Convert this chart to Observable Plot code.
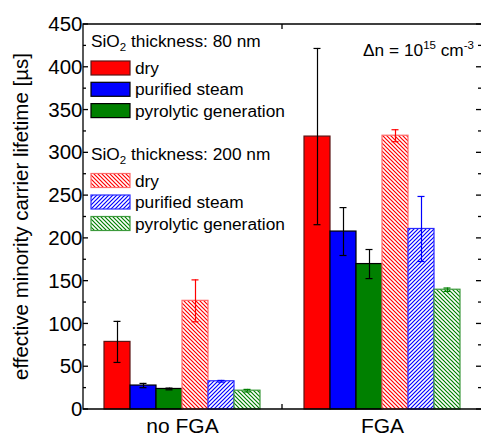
<!DOCTYPE html>
<html>
<head>
<meta charset="utf-8">
<script src="https://cdn.jsdelivr.net/npm/d3@7"></script>
<script src="https://cdn.jsdelivr.net/npm/@observablehq/plot@0.6"></script>
<style>
  html, body { margin: 0; padding: 0; background: #fff; }
  #chart { width: 481px; height: 436px; }
</style>
</head>
<body>
<div id="chart"></div>
<script>
// ---- data ----
const groups = ["no FGA", "FGA"];
const series = ["dry 80", "purified steam 80", "pyrolytic 80", "dry 200", "purified steam 200", "pyrolytic 200"];
const lifetimeNoFGA = [79, 28, 24, 127, 33, 22];
const errorNoFGA = [24, 2.5, 1, 24.5, 1, 1.5];
const lifetimeFGA = [319, 208, 170, 320, 211, 140];
const errorFGA = [103, 28, 17, 7, 38, 2];
const yTicks = [0, 50, 100, 150, 200, 250, 300, 350, 400, 450];
const yMinorTicks = [25, 75, 125, 175, 225, 275, 325, 375, 425];
const legendHeaders = ["80 nm", "200 nm"];
const legendLabels = ["dry", "purified steam", "pyrolytic generation"];
const yTitle = "effective minority carrier lifetime [µs]";

// ---- styles ----
const FONT = "Arial, 'Liberation Sans', Helvetica, sans-serif";
const FILL = {
  "dry 80": "#ff0000", "purified steam 80": "#0000ff", "pyrolytic 80": "#008000",
  "dry 200": "url(#hatch-red)", "purified steam 200": "url(#hatch-blue)", "pyrolytic 200": "url(#hatch-green)"
};
const STROKE = {
  "dry 80": "#5a1515", "purified steam 80": "#000000", "pyrolytic 80": "#000000",
  "dry 200": "#ff6a6a", "purified steam 200": "#2a2aff", "pyrolytic 200": "#3c9a3c"
};
const ERRC = {
  "dry 80": "#000", "purified steam 80": "#000", "pyrolytic 80": "#000",
  "dry 200": "#ff0000", "purified steam 200": "#0000ff", "pyrolytic 200": "#008000"
};

const rows = [];
groups.forEach((g, gi) => {
  const vals = gi === 0 ? lifetimeNoFGA : lifetimeFGA;
  const errs = gi === 0 ? errorNoFGA : errorFGA;
  series.forEach((s, i) => rows.push({group: g, series: s, value: vals[i], err: errs[i]}));
});

const chart = Plot.plot({
  width: 481,
  height: 436,
  marginTop: 24,
  marginRight: 0,
  marginBottom: 27,
  marginLeft: 83,
  style: {fontFamily: FONT, color: "black", background: "white", overflow: "visible"},
  fx: {domain: groups, paddingInner: 0.199, paddingOuter: 0.0896, label: null},
  x: {domain: series, paddingInner: 0, paddingOuter: 0, axis: null},
  y: {domain: [0, 450]},
  color: {type: "identity"},
  marks: [
    Plot.barY(rows, {fx: "group", x: "series", y: "value",
      fill: d => FILL[d.series], stroke: d => STROKE[d.series], strokeWidth: 1.2}),
    Plot.ruleX(rows, {fx: "group", x: "series",
      y1: d => d.value - d.err, y2: d => d.value + d.err,
      stroke: d => ERRC[d.series], strokeWidth: 1.2}),
    Plot.tickY(rows, {fx: "group", x: "series", y: d => d.value + d.err,
      stroke: d => ERRC[d.series], strokeWidth: 1.2, insetLeft: 9.5, insetRight: 9.5}),
    Plot.tickY(rows, {fx: "group", x: "series", y: d => d.value - d.err,
      stroke: d => ERRC[d.series], strokeWidth: 1.2, insetLeft: 9.5, insetRight: 9.5}),
    Plot.axisY(yTicks, {anchor: "left", tickSize: 0, tickPadding: 15, fontSize: 20.5, label: null}),
    Plot.axisFx({anchor: "bottom", tickSize: 0, tickPadding: 9, fontSize: 21, label: null})
  ]
});

document.getElementById("chart").appendChild(chart);

// ---- decorations: patterns, frame, ticks, legend, annotation ----
const svg = d3.select(chart);
// nudge y tick labels a few px further left of the axis line (keep Plot's own offset)
svg.selectAll("g[aria-label='y-axis tick label']").attr("transform", function () {
  return (this.getAttribute("transform") || "") + " translate(-5,0)";
});

const defs = svg.insert("defs", ":first-child");
function hatch(id, color, dir) {
  const p = defs.append("pattern").attr("id", id).attr("patternUnits", "userSpaceOnUse")
    .attr("width", 4).attr("height", 4);
  p.append("rect").attr("width", 4).attr("height", 4).attr("fill", "white");
  const d = dir === "back"
    ? "M-1,-1 L5,5 M-1,3 L1,5 M3,-1 L5,1"
    : "M-1,5 L5,-1 M-1,1 L1,-1 M3,5 L5,3";
  p.append("path").attr("d", d).attr("stroke", color).attr("stroke-width", 1.2);
}
hatch("hatch-red", "#ff0000", "back");
hatch("hatch-blue", "#0000ff", "fwd");
hatch("hatch-green", "#008000", "back");

const ys = chart.scale("y");
const fxs = chart.scale("fx");
const [yBottom, yTop] = ys.range;
const xLeft = 83, xRight = 481;
const deco = svg.append("g").attr("stroke", "black").attr("stroke-width", 1.3).attr("fill", "none");
deco.append("path").attr("d", `M${xRight},${yTop}H${xLeft}V${yBottom}H${xRight}`);
yTicks.forEach(v => {
  const yy = ys.apply(v);
  deco.append("line").attr("x1", xLeft).attr("x2", xLeft + 5).attr("y1", yy).attr("y2", yy);
  deco.append("line").attr("x1", xRight - 5).attr("x2", xRight).attr("y1", yy).attr("y2", yy);
});
yMinorTicks.forEach(v => {
  const yy = ys.apply(v);
  deco.append("line").attr("x1", xLeft).attr("x2", xLeft + 3).attr("y1", yy).attr("y2", yy);
  deco.append("line").attr("x1", xRight - 3).attr("x2", xRight).attr("y1", yy).attr("y2", yy);
});
// category separator tick
const sep = (fxs.apply(groups[0]) + fxs.bandwidth + fxs.apply(groups[1])) / 2;
deco.append("line").attr("x1", sep).attr("x2", sep).attr("y1", yBottom).attr("y2", yBottom - 5);
deco.append("line").attr("x1", sep).attr("x2", sep).attr("y1", yTop).attr("y2", yTop + 5);

// y title
svg.append("text").attr("transform", `translate(28,${(yTop + yBottom) / 2}) rotate(-90)`)
  .attr("text-anchor", "middle").attr("font-size", 20.5).attr("font-family", FONT)
  .attr("fill", "black").text(yTitle);

// legend
const leg = svg.append("g").attr("font-family", FONT).attr("font-size", 17.3)
  .attr("fill", "black").attr("text-anchor", "start");
const sets = [
  {header: legendHeaders[0], y0: 47, rowsY: [68, 89.3, 110.6], keys: series.slice(0, 3)},
  {header: legendHeaders[1], y0: 159.5, rowsY: [180.5, 202, 223.5], keys: series.slice(3, 6)}
];
sets.forEach(set => {
  const t = leg.append("text").attr("x", 91).attr("y", set.y0);
  t.append("tspan").text("SiO");
  t.append("tspan").attr("font-size", 11.5).attr("dy", 4).text("2");
  t.append("tspan").attr("dy", -4).text(" thickness: " + set.header);
  set.keys.forEach((k, i) => {
    const yc = set.rowsY[i];
    leg.append("rect").attr("x", 91).attr("y", yc - 7).attr("width", 39).attr("height", 14)
      .attr("fill", FILL[k]).attr("stroke", STROKE[k]).attr("stroke-width", 1.2);
    leg.append("text").attr("x", 135).attr("y", yc).attr("dy", "0.35em").text(legendLabels[i]);
  });
});

// Δn annotation
const an = svg.append("text").attr("x", 474).attr("y", 56).attr("text-anchor", "end")
  .attr("font-family", FONT).attr("font-size", 17.3).attr("fill", "black");
an.append("tspan").text("Δn = 10");
an.append("tspan").attr("font-size", 11.5).attr("dy", -7).text("15");
an.append("tspan").attr("dy", 7).text(" cm");
an.append("tspan").attr("font-size", 11.5).attr("dy", -7).text("-3");
</script>
</body>
</html>
